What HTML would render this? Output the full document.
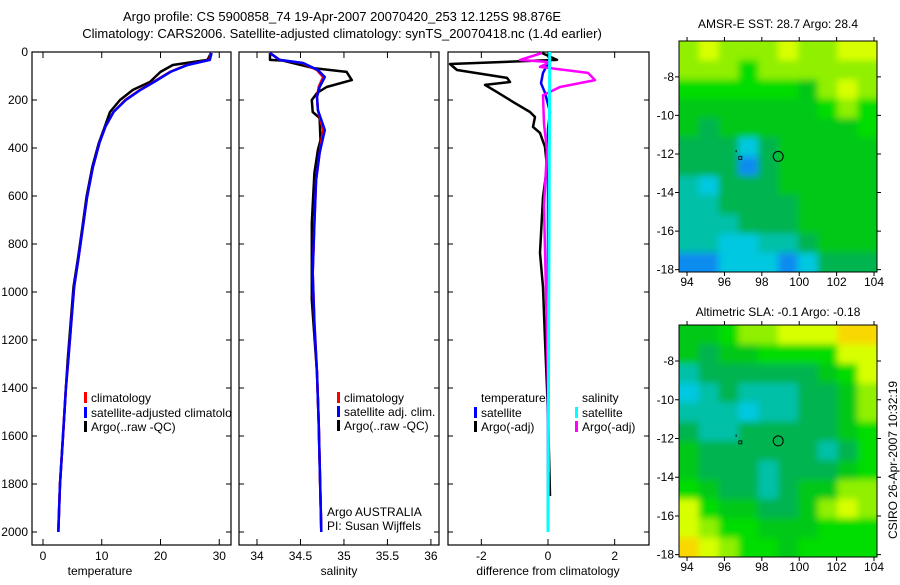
<!DOCTYPE html>
<html><head><meta charset="utf-8">
<style>
body{margin:0;background:#fff;}
svg text{font-family:"Liberation Sans",sans-serif;font-size:12px;fill:#000;}
</style></head>
<body>
<svg id="fig" width="900" height="580" viewBox="0 0 900 580" xmlns="http://www.w3.org/2000/svg">
<defs>
<filter id="blur" x="-5%" y="-5%" width="110%" height="110%"><feGaussianBlur stdDeviation="3.5"/></filter>
<clipPath id="mapclip1"><rect x="679" y="41" width="198" height="231"/></clipPath>
<clipPath id="mapclip2"><rect x="679" y="325" width="198" height="232"/></clipPath>
</defs>
<text x="342" y="21" text-anchor="middle" style="font-size:13px">Argo profile: CS 5900858_74 19-Apr-2007 20070420_253 12.125S 98.876E</text>
<text x="342" y="38" text-anchor="middle" style="font-size:13px">Climatology: CARS2006. Satellite-adjusted climatology: synTS_20070418.nc (1.4d earlier)</text>
<text x="778" y="28" text-anchor="middle">AMSR-E SST: 28.7 Argo: 28.4</text>
<text x="778" y="316" text-anchor="middle">Altimetric SLA: -0.1 Argo: -0.18</text>
<text x="0" y="0" transform="translate(897,460) rotate(-90)" text-anchor="middle">CSIRO 26-Apr-2007 10:32:19</text>
<text x="100" y="575" text-anchor="middle">temperature</text>
<text x="339" y="575" text-anchor="middle">salinity</text>
<text x="548" y="575" text-anchor="middle">difference from climatology</text>
<text x="327" y="516">Argo AUSTRALIA</text>
<text x="327" y="530">PI: Susan Wijffels</text>
</svg>
<script>
// ---- data ----
const tempDepth=[4,33,54,83,125,158,200,250,312,379,479,604,729,867,979,1283,1400,1600,1800,2000];
const tempClim=[28.6,28.3,24.5,21.6,18.8,16.5,14.0,12.0,10.6,9.6,8.5,7.5,6.8,6.0,5.3,4.3,3.9,3.4,2.9,2.6];
const tempSat=[28.7,28.4,24.6,21.7,18.9,16.6,14.1,12.0,10.6,9.6,8.5,7.5,6.8,6.0,5.3,4.3,3.9,3.4,2.9,2.6];
const argoTDepth=[4,33,54,83,125,158,200,250,312,379,479,604,729,867,979,1283,1400,1600,1800,2000];
const argoTemp=[28.6,28.0,22.1,20.0,18.2,15.3,13.1,11.4,10.5,9.5,8.4,7.4,6.7,5.9,5.2,4.2,3.9,3.4,2.9,2.6];
const salDepth=[4,33,46,75,104,146,187,242,325,421,533,712,921,1129,1337,1546,2000];
const salClim=[34.15,34.26,34.52,34.69,34.76,34.71,34.69,34.70,34.76,34.72,34.68,34.66,34.64,34.66,34.69,34.71,34.74];
const salSat=[34.15,34.26,34.53,34.70,34.78,34.72,34.69,34.70,34.78,34.72,34.68,34.66,34.64,34.66,34.69,34.71,34.74];
const argoSDepth=[4,33,36,68,83,117,146,171,200,250,275,367,408,504,712,1033,1337,1546,2000];
const argoSal=[34.15,34.15,34.30,34.66,35.03,35.09,34.80,34.69,34.63,34.64,34.72,34.73,34.70,34.66,34.63,34.63,34.69,34.71,34.74];
const diffDepth=[4,33,50,75,108,125,137,167,208,250,271,312,337,396,479,604,837,979,1200,1500,1850];
const diffArgoT=[-0.18,0.27,-2.94,-2.73,-1.23,-1.14,-1.89,-1.53,-1.05,-0.54,-0.39,-0.45,-0.24,-0.09,-0.03,-0.15,-0.24,-0.15,-0.09,0.0,0.06];
const diffSDepth=[4,33,42,62,87,117,146,180,300,410,640,1055,1400,1750];
const diffArgoS=[-0.18,-0.84,0.06,-0.24,1.2,1.41,0.36,-0.15,-0.12,-0.03,-0.12,-0.05,0.0,0.02];
const diffTSDepth=[4,40,87,130,170,250,320,600,1000,1500,2000];
const diffSatT=[0.06,0.03,-0.15,-0.21,-0.09,0.06,0.0,0.0,0.0,0.0,0.0];
const diffSSDepth=[0,2000];
const diffSatS=[0.05,0.0];
const tempTicks=[0,10,20,30];
const salTicks=[34,34.5,35,35.5,36];
const salTickLabels=["34","34.5","35","35.5","36"];
const diffTicks=[-2,0,2];
const depthTicks=[0,200,400,600,800,1000,1200,1400,1600,1800,2000];
const lonTicks=[94,96,98,100,102,104];
const latTicks=[-8,-10,-12,-14,-16,-18];
const sstGrid=[
[6,7,6,6,6,7,6,6,7,7],[6,6,6,5,6,6,6,6,6,6],[5,5,5,5,5,5,4,6,7,6],[4,4,4,4,4,4,4,5,6,5],
[4,3,4,4,4,4,4,4,4,5],[3,3,3,1,3,4,4,4,4,4],[3,3,3,0,3,4,4,4,4,4],[2,1,3,3,3,4,4,4,4,4],
[2,2,3,3,3,3,4,4,4,4],[2,2,2,3,3,3,4,4,4,4],[2,2,1,1,2,2,3,4,4,4],[0,0,1,1,1,0,1,3,3,3]];
const slaGrid=[
[4,4,5,6,6,7,7,7,8,8],[4,3,4,4,5,5,5,5,7,7],[2,3,3,3,3,3,3,4,5,7],[1,2,3,2,2,2,3,3,4,6],
[2,2,2,1,2,2,3,3,4,6],[3,2,2,3,3,3,3,3,4,5],[4,3,3,3,3,3,3,2,3,5],[4,3,3,3,2,3,3,3,4,5],
[5,4,3,3,2,3,4,4,6,6],[7,5,4,4,3,3,4,6,7,6],[7,6,5,5,4,4,4,5,5,5],[8,7,6,5,5,4,5,5,5,5]];
const palette=["#0a8cf0","#00c8e0","#00c0a8","#00b450","#00c818","#00dd00","#90f000","#d8ff00","#f8d800"];
const floatLon=98.876, floatLat=-12.125;

// ---- drawing ----
const NS="http://www.w3.org/2000/svg", svg=document.getElementById('fig');
function mk(t,a,p){const e=document.createElementNS(NS,t);for(const k in a)e.setAttribute(k,a[k]);(p||svg).appendChild(e);return e;}
const yD=d=>52+d*0.24;
function panel(name,x0,x1,dmin,dmax){
  const sx=v=>x0+(v-dmin)/(dmax-dmin)*(x1-x0);
  return {sx,x0,x1,name};
}
const P1=panel('temperature',32,231,-1.87,32.0);
const P2=panel('salinity',239,439,33.793,36.093);
const P3=panel('difference',448,649,-3.0,3.03);
function frame(P,ticks,labels,ylabels){
  const r=mk('rect',{x:P.x0,y:52,width:P.x1-P.x0,height:493,fill:'none',stroke:'#000','stroke-width':1.2});
  
  
  ticks.forEach((t,i)=>{const x=P.sx(t);
    const tk=mk('path',{d:`M${x},545v-6M${x},52v6`,stroke:'#000'});
    
    
    const tl=mk('text',{x:x,y:560,'text-anchor':'middle'});tl.textContent=labels[i];
    
    });
  depthTicks.forEach(d=>{const y=yD(d);
    const tk=mk('path',{d:`M${P.x0},${y}h5M${P.x1},${y}h-5`,stroke:'#000'});
    
    
    if(ylabels){const tl=mk('text',{x:28,y:y+4,'text-anchor':'end'});tl.textContent=d;
      
      }});
}
frame(P1,tempTicks,tempTicks.map(String),true);
frame(P2,salTicks,salTickLabels,false);
frame(P3,diffTicks,diffTicks.map(String),false);
function line(P,vals,depths,color,name,w){
  const pts=vals.map((v,i)=>P.sx(v).toFixed(1)+','+yD(depths[i]).toFixed(1)).join(' ');
  const l=mk('polyline',{points:pts,fill:'none',stroke:color,'stroke-width':w||2.5,'stroke-linejoin':'round'});
  
  
}
line(P1,argoTemp,argoTDepth,'#000','argo-temperature-line');
line(P1,tempClim,tempDepth,'#f00','climatology-temperature-line');
line(P1,tempSat,tempDepth,'#00f','satellite-temperature-line');
line(P2,argoSal,argoSDepth,'#000','argo-salinity-line');
line(P2,salClim,salDepth,'#f00','climatology-salinity-line');
line(P2,salSat,salDepth,'#00f','satellite-salinity-line');
line(P3,diffArgoT,diffDepth,'#000','argo-temperature-diff-line');
line(P3,diffSatT,diffTSDepth,'#00f','satellite-temperature-diff-line');
line(P3,diffArgoS,diffSDepth,'#f0f','argo-salinity-diff-line');
line(P3,diffSatS,diffSSDepth,'#0ff','satellite-salinity-diff-line',3);
function legend(x,y,color,label,name){
  if(color){const m=mk('rect',{x:x-7,y:y-6,width:3,height:11,fill:color});
    
    }
  const t=mk('text',{x:x,y:y+4});t.textContent=label;
  
  
}
const clip=mk('clipPath',{id:'c1'});mk('rect',{x:32,y:52,width:199,height:493},clip);
legend(91,398,'#f00','climatology','legend-temp-climatology');
legend(91,413,'#00f','satellite-adjusted climatology','legend-temp-satellite');
svg.lastChild.setAttribute('clip-path','url(#c1)');
legend(91,427,'#000','Argo(..raw -QC)','legend-temp-argo');
legend(344,398,'#f00','climatology','legend-sal-climatology');
legend(344,412,'#00f','satellite adj. clim.','legend-sal-satellite');
legend(344,426,'#000','Argo(..raw -QC)','legend-sal-argo');
legend(481,398,null,'temperature','legend-diff-temperature-header');
legend(481,413,'#00f','satellite','legend-diff-temp-satellite');
legend(481,427,'#000','Argo(-adj)','legend-diff-temp-argo');
legend(582,398,null,'salinity','legend-diff-salinity-header');
legend(582,413,'#0ff','satellite','legend-diff-sal-satellite');
legend(582,427,'#f0f','Argo(-adj)','legend-diff-sal-argo');

function map(grid,top,bottom,name,clipId){
  const L=679,R=877,lon0=93.57,lon1=104.16,lat0=-6.14,lat1=-18.12;
  const mx=v=>L+(v-lon0)/(lon1-lon0)*(R-L), my=v=>top+(v-lat0)/(lat1-lat0)*(bottom-top);
  const rows=grid.length, cols=grid[0].length, cw=(R-L)/cols, ch=(bottom-top)/rows;
  const outer=mk('g',{'clip-path':'url(#'+clipId+')'});
  
  
  const g=mk('g',{filter:'url(#blur)'},outer);
  
  
  grid.forEach((row,j)=>row.forEach((v,i)=>{
    const ex0=i===0?-8:0, ey0=j===0?-8:0, ex1=i===cols-1?8:0, ey1=j===rows-1?8:0;
    const c=mk('rect',{x:(L+i*cw+ex0).toFixed(1),y:(top+j*ch+ey0).toFixed(1),width:(cw+0.6-ex0+ex1).toFixed(1),height:(ch+0.6-ey0+ey1).toFixed(1),fill:palette[v]},g);
    
    }));
  const f=mk('rect',{x:L,y:top,width:R-L,height:bottom-top,fill:'none',stroke:'#000'});
  
  
  lonTicks.forEach(v=>{const x=mx(v);
    const tk=mk('path',{d:`M${x},${bottom}v4M${x},${top}v-4`,stroke:'#000'});
    
    
    const t=mk('text',{x:x,y:bottom+14,'text-anchor':'middle'});t.textContent=v;
    
    });
  latTicks.forEach(v=>{const y=my(v);
    const tk=mk('path',{d:`M${L},${y}h-4M${R},${y}h4`,stroke:'#000'});
    
    
    const t=mk('text',{x:L-5,y:y+4,'text-anchor':'end'});t.textContent=v;
    
    });
  const c=mk('circle',{cx:mx(floatLon),cy:my(floatLat),r:5,fill:'none',stroke:'#000'});
  
  
  const s=mk('rect',{x:mx(96.85)-1.5,y:my(-12.2)-1.5,width:3,height:3,fill:'none',stroke:'#000','stroke-width':0.8});
  
  
  const d=mk('rect',{x:mx(96.6),y:my(-11.8),width:1,height:2,fill:'#000'});
  
  
}
map(sstGrid,41,272,'sst-map','mapclip1');
map(slaGrid,325,557,'sla-map','mapclip2');
</script>
</body></html>
